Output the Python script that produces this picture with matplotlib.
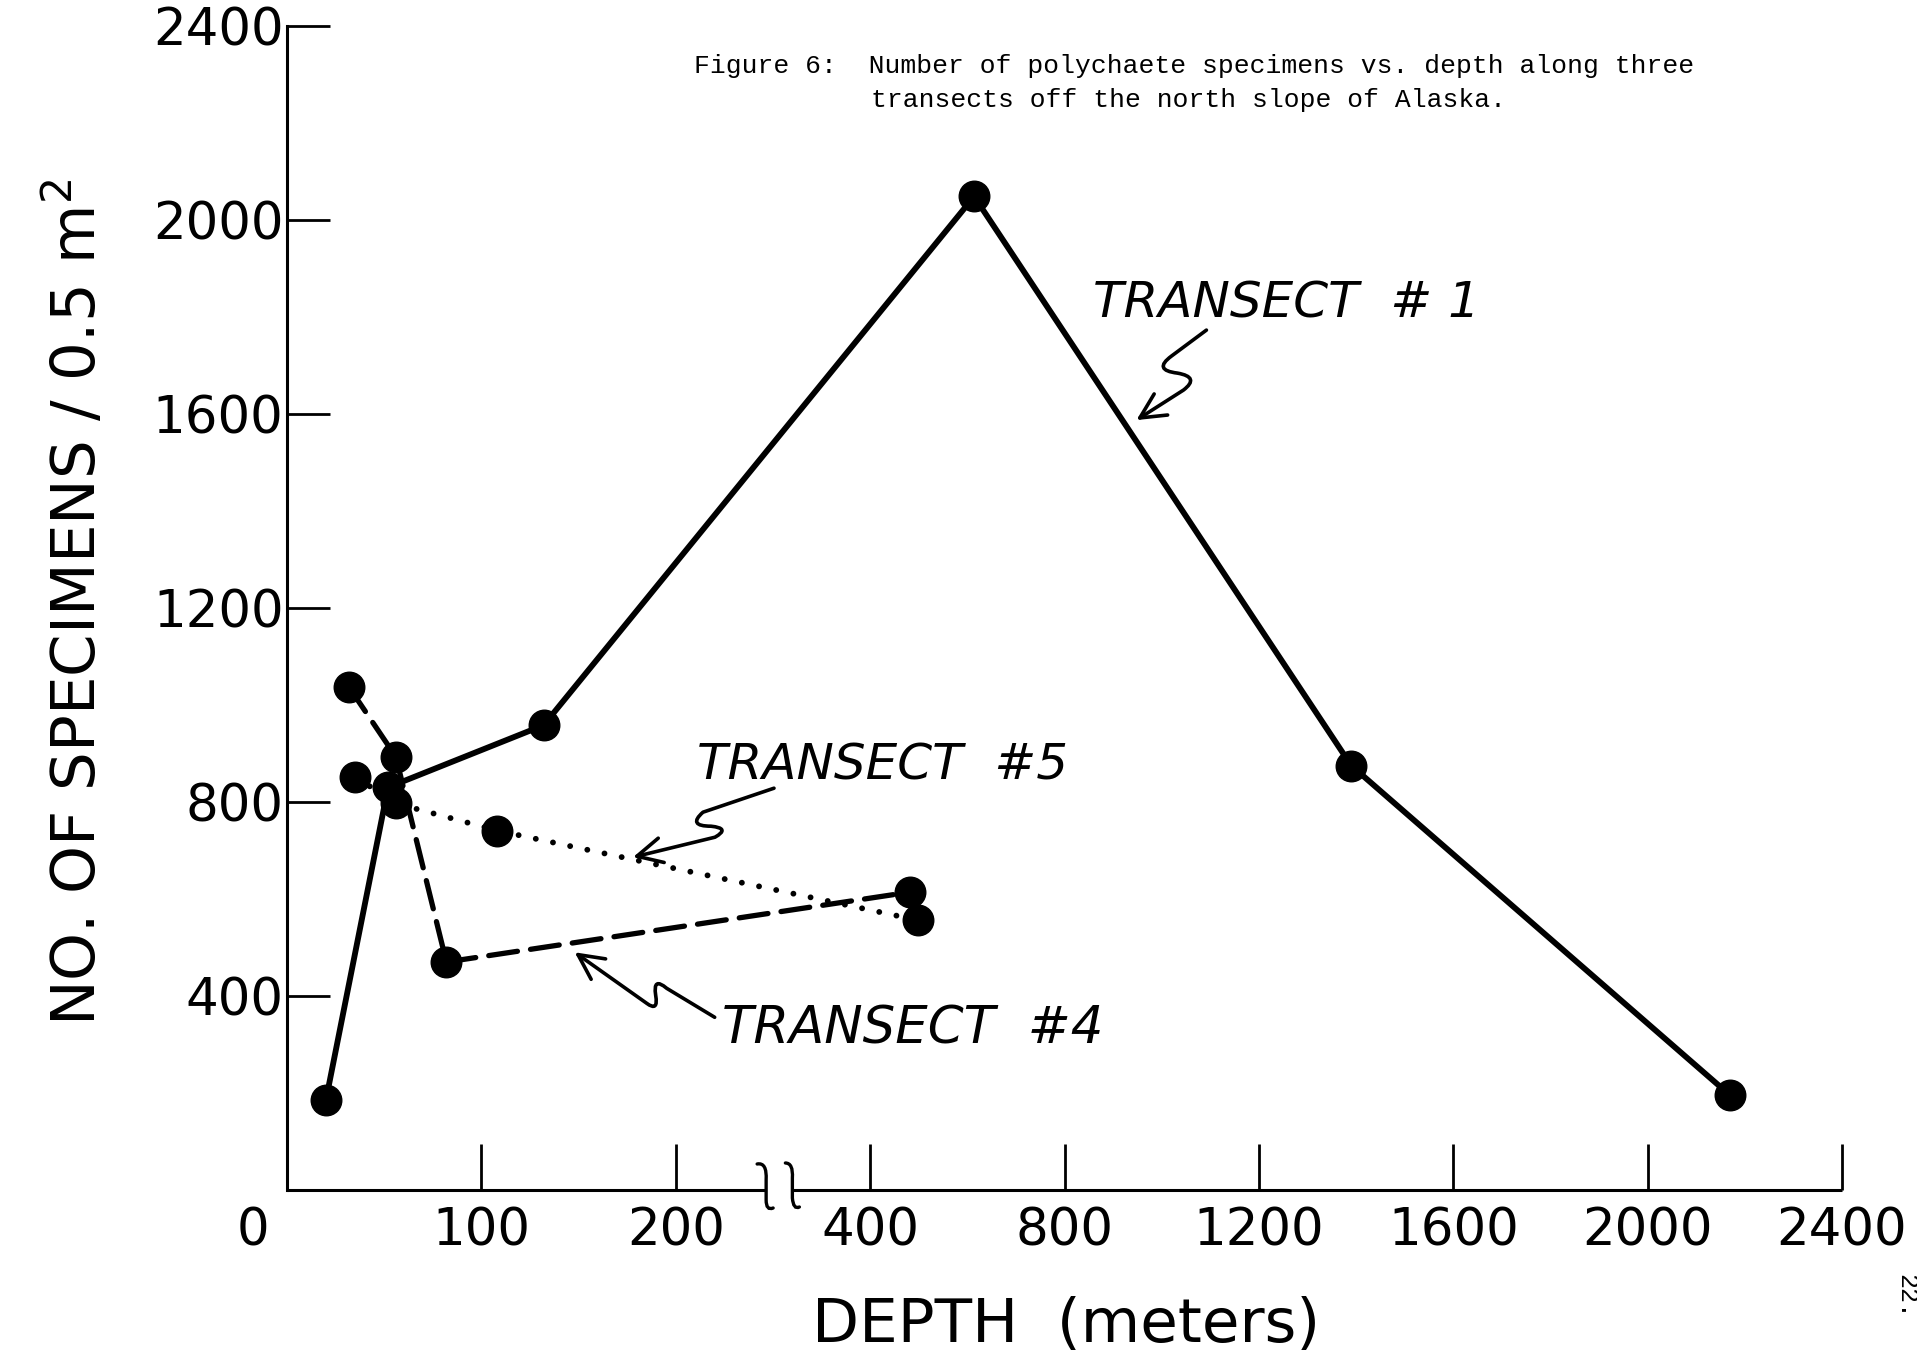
import matplotlib
matplotlib.use("Agg")
import matplotlib.pyplot as plt
import numpy as np
from matplotlib.path import Path
from matplotlib.patches import FancyArrowPatch, PathPatch
from matplotlib.transforms import IdentityTransform, ScaledTranslation

# polychaete counts (depth in m, specimens per 0.5 m^2)
t1_depth = [20, 52, 132, 614, 1390, 2170]
t1_count = [185, 830, 958, 2048, 875, 195]
t4_depth = [32, 56, 82, 482]
t4_count = [1036, 893, 470, 614]
t5_depth = [35, 56, 108, 499]
t5_count = [852, 797, 741, 556]

x_ticks = [0, 100, 200, 400, 800, 1200, 1600, 2000, 2400]
y_ticks = [400, 800, 1200, 1600, 2000, 2400]

W, H = 1917, 1362


def forward(d):
    """Broken depth axis: 100 m per unit up to 200, one unit for 200-400, then 400 m per unit."""
    d = np.asarray(d, dtype=float)
    return np.where(d <= 200, d / 100,
                    np.where(d <= 400, 2 + (d - 200) / 200, 3 + (d - 400) / 400))


def inverse(p):
    p = np.asarray(p, dtype=float)
    return np.where(p <= 2, p * 100,
                    np.where(p <= 3, 200 + (p - 2) * 200, 400 + (p - 3) * 400))


def fig_xy(x, y):
    # reference pixel position -> figure fraction
    return x / W, 1 - y / H


def squiggle_arrow(tip, steps):
    """Hand-drawn style arrow; steps are (code, dx, dy) pixel offsets from the tip, y downward."""
    x0, y0 = ax.transData.transform(tip)
    verts = [(x0 + dx, y0 - dy) for _, dx, dy in steps]
    codes = [c for c, _, _ in steps]
    arrow = FancyArrowPatch(path=Path(verts, codes), arrowstyle="->,head_length=0.6,head_width=0.3",
                            mutation_scale=30, lw=2.6, color="black", transform=IdentityTransform())
    fig.add_artist(arrow)


def break_mark(depth, steps):
    x0, y0 = ax.transData.transform((depth, 0))
    verts = [(x0 + dx, y0 - dy) for _, dx, dy in steps]
    codes = [c for c, _, _ in steps]
    fig.add_artist(PathPatch(Path(verts, codes), fill=False, lw=2.4, color="black",
                             transform=IdentityTransform(), capstyle="round"))


fig = plt.figure(figsize=(W / 100, H / 100), dpi=100)
ax = fig.add_axes([287 / W, 1 - 1190 / H, (1842 - 287) / W, (1190 - 25.7) / H])
ax.set_xscale("function", functions=(forward, inverse))
ax.set_xlim(0, 2400)
ax.set_ylim(0, 2400)

ax.plot(t1_depth, t1_count, color="black", lw=4.2, marker="o", ms=22, clip_on=False)
ax.plot(t4_depth, t4_count, color="black", lw=3.8, ls=(0, (5.5, 2.5)), marker="o", ms=22,
        dash_capstyle="round", clip_on=False)
ax.plot(t5_depth, t5_count, color="black", lw=4.2, ls=(0, (0.01, 3.0)), marker="o", ms=22,
        dash_capstyle="round", clip_on=False)

# axes frame
for side in ["top", "right", "bottom"]:
    ax.spines[side].set_visible(False)
ax.spines["left"].set_linewidth(2.2)
ax.plot([0, 293], [0, 0], color="black", lw=2.2, solid_capstyle="butt", clip_on=False)
ax.plot([320, 2400], [0, 0], color="black", lw=2.2, solid_capstyle="butt", clip_on=False)

C, L, M = Path.CURVE3, Path.LINETO, Path.MOVETO
break_mark(293, [(M, -9, -26), (C, 1, -28), (C, 0, -10), (L, 0, 10), (C, 0, 21), (C, 7, 18)])
break_mark(320, [(M, -7, -27), (C, 1, -27), (C, 0, -12), (L, 0, 8), (C, 1, 20), (C, 7, 17)])

ax.set_xticks(x_ticks)
ax.set_xticklabels([str(v) for v in x_ticks])
ax.set_yticks(y_ticks)
ax.set_yticklabels([str(v) for v in y_ticks])
ax.tick_params(axis="x", direction="in", length=33, width=2, pad=12, labelsize=37)
ax.tick_params(axis="y", direction="in", length=31, width=2, pad=2.5, labelsize=37)
zero = ax.xaxis.get_major_ticks()[0].label1
zero.set_transform(zero.get_transform() + ScaledTranslation(-0.34, 0, fig.dpi_scale_trans))

ax.set_ylabel("NO. OF SPECIMENS / 0.5 m$^2$", fontsize=44, va="center")
ax.yaxis.set_label_coords(-0.135, 0.505)
ax.set_xlabel("DEPTH  (meters)", fontsize=44, va="center")
ax.xaxis.set_label_coords(0.501, -0.116)

# caption typed on the page
fig.text(*fig_xy(694, 73), "Figure 6:  Number of polychaete specimens vs. depth along three",
         family="Liberation Mono", fontsize=19, va="baseline")
fig.text(*fig_xy(870.5, 107.5), "transects off the north slope of Alaska.",
         family="Liberation Mono", fontsize=19, va="baseline")
fig.text(*fig_xy(1906, 1296), "22.", family="Liberation Mono", fontsize=18,
         rotation=270, ha="center", va="center")

# transect labels with squiggly arrows
fig.text(*fig_xy(1093, 317), "TRANSECT  # 1", fontsize=36, style="italic", va="baseline")
fig.text(*fig_xy(697, 779), "TRANSECT  #5", fontsize=36, style="italic", va="baseline")
fig.text(*fig_xy(722, 1043), "TRANSECT  #4", fontsize=37, style="italic", va="baseline")

squiggle_arrow((948, 1587), [(M, 70, -90), (L, 35, -64), (C, 16, -50), (C, 41, -47),
                             (C, 64, -43), (C, 47, -30), (L, 0, 0)])
squiggle_arrow((178, 686), [(M, 141, -69), (L, 70, -45), (C, 54, -31), (C, 78, -31),
                            (C, 98, -29), (C, 82, -20), (L, 0, 0)])
squiggle_arrow((148, 490), [(M, 140, 65), (L, 92, 36), (C, 78, 24), (C, 81, 43),
                            (C, 84, 60), (C, 72, 51), (L, 0, 0)])

fig.savefig("out.png", dpi=100)
